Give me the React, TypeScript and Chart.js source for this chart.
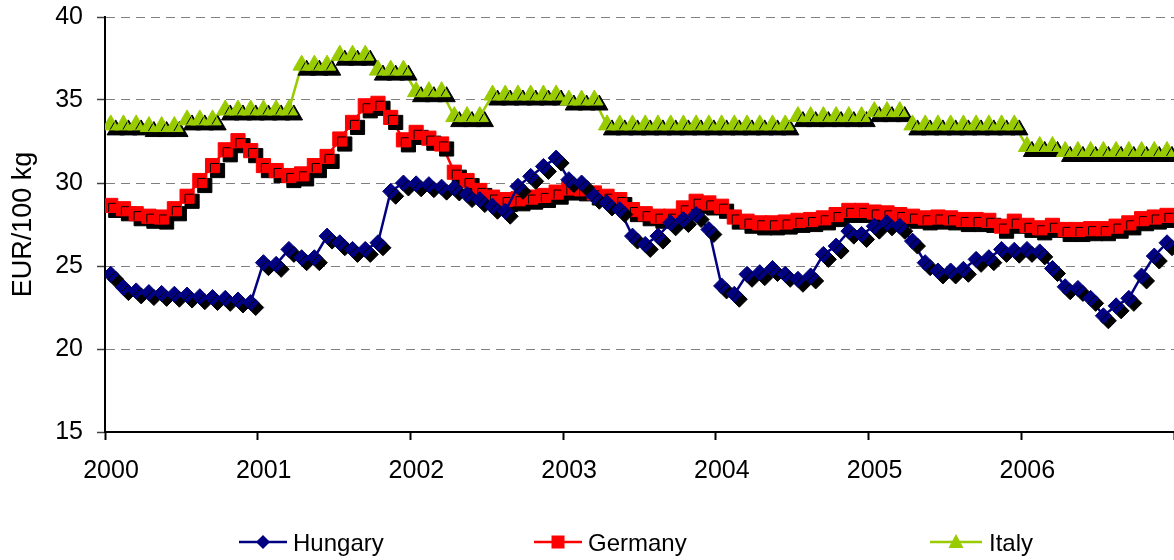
import React, { useEffect, useRef } from 'react';
import { Chart, registerables } from 'chart.js';

Chart.register(...registerables);

// ---------- DATA ----------
const years = [2000, 2001, 2002, 2003, 2004, 2005, 2006];
const months: string[] = years.flatMap((y) =>
  Array.from({ length: 12 }, (_, m) => `${y}-${String(m + 1).padStart(2, '0')}`)
);
const xTickYears = [2000, 2001, 2002, 2003, 2004, 2005, 2006, 2007];
const yTicks = [15, 20, 25, 30, 35, 40];
const seriesNames = ['Hungary', 'Germany', 'Italy'];

const hungary = [
  24.5, 23.7, 23.5, 23.4, 23.35, 23.3, 23.25, 23.15, 23.1, 23.05, 22.95, 22.8,
  25.2, 25.1, 26.0, 25.5, 25.5, 26.8, 26.4, 26.0, 26.0, 26.4, 29.5, 30.0,
  29.95, 29.9, 29.75, 29.7, 29.3, 29.0, 28.6, 28.3, 29.8, 30.4, 31.0, 31.5,
  30.2, 30.0, 29.2, 28.8, 28.4, 26.8, 26.3, 26.8, 27.6, 27.8, 28.1, 27.2,
  23.8, 23.3, 24.5, 24.6, 24.85, 24.5, 24.2, 24.4, 25.7, 26.2, 27.1, 26.9,
  27.4, 27.6, 27.4, 26.5, 25.2, 24.7, 24.7, 24.8, 25.4, 25.5, 26.0, 25.95,
  26.0, 25.85, 24.85, 23.75, 23.65, 23.05, 22.0, 22.6, 23.05, 24.4, 25.6, 26.4,
];

const germany = [
  28.65, 28.45, 28.15, 28.0, 27.95, 28.45, 29.2, 30.15, 31.05, 32.0, 32.55, 31.95,
  31.05, 30.75, 30.45, 30.55, 31.05, 31.6, 32.65, 33.65, 34.65, 34.8, 33.95, 32.6,
  33.05, 32.7, 32.35, 30.65, 30.15, 29.55, 29.15, 29.0, 29.05, 29.15, 29.25, 29.45,
  29.7, 29.65, 29.4, 29.2, 29.0, 28.4, 28.15, 28.0, 28.0, 28.5, 28.9, 28.8,
  28.6, 27.95, 27.7, 27.6, 27.6, 27.65, 27.75, 27.8, 27.9, 28.1, 28.35, 28.35,
  28.25, 28.2, 28.1, 28.0, 27.9, 27.95, 27.9, 27.8, 27.8, 27.75, 27.4, 27.7,
  27.45, 27.3, 27.45, 27.2, 27.2, 27.25, 27.25, 27.4, 27.6, 27.85, 27.95, 28.05,
];

const italy = [
  33.5, 33.5, 33.5, 33.4, 33.4, 33.4, 33.8, 33.8, 33.8, 34.4, 34.4, 34.4,
  34.4, 34.4, 34.4, 37.1, 37.1, 37.1, 37.7, 37.7, 37.7, 36.8, 36.8, 36.8,
  35.5, 35.5, 35.5, 34.0, 34.0, 34.0, 35.3, 35.3, 35.3, 35.3, 35.3, 35.3,
  35.0, 35.0, 35.0, 33.5, 33.5, 33.5, 33.5, 33.5, 33.5, 33.5, 33.5, 33.5,
  33.5, 33.5, 33.5, 33.5, 33.5, 33.5, 34.0, 34.0, 34.0, 34.0, 34.0, 34.0,
  34.3, 34.3, 34.3, 33.5, 33.5, 33.5, 33.5, 33.5, 33.5, 33.5, 33.5, 33.5,
  32.2, 32.2, 32.2, 31.9, 31.9, 31.9, 31.9, 31.9, 31.9, 31.9, 31.9, 31.9,
];

// ---------- STYLE ----------
const FONT = "'Liberation Sans', Arial, sans-serif";
const colors = ['#000080', '#FF0000', '#99CC00'];
const pointStyles = ['rectRot', 'rect', 'triangle'];
const pointRadii = [8, 10, 10];

// month label -> decimal year near the middle of the month
const toYear = (m: string) => {
  const [y, mo] = m.split('-').map(Number);
  return y + (mo - 1 + 0.45) / 12;
};

const seriesValues = [hungary, germany, italy];

const shadowPlugin = {
  id: 'markerShadow',
  beforeDatasetDraw(chart: any, args: any) {
    const ds = chart.data.datasets[args.index];
    if (ds.markerShadow) {
      const ctx = chart.ctx;
      ctx.save();
      ctx.shadowColor = '#000000';
      ctx.shadowOffsetX = 5;
      ctx.shadowOffsetY = 5;
      ctx.shadowBlur = 0;
    }
  },
  afterDatasetDraw(chart: any, args: any) {
    const ds = chart.data.datasets[args.index];
    if (ds.markerShadow) chart.ctx.restore();
  },
};

const legendLayout = [
  { lineStart: 239, lineEnd: 287, marker: 263, text: 293 },
  { lineStart: 534, lineEnd: 582, marker: 558, text: 588 },
  { lineStart: 930, lineEnd: 982, marker: 956, text: 989 },
];

const drawMarker = (ctx: CanvasRenderingContext2D, style: string, x: number, y: number) => {
  ctx.beginPath();
  if (style === 'rectRot') {
    const r = 7;
    ctx.moveTo(x, y - r);
    ctx.lineTo(x + r, y);
    ctx.lineTo(x, y + r);
    ctx.lineTo(x - r, y);
  } else if (style === 'rect') {
    const h = 6.5;
    ctx.rect(x - h, y - h, 2 * h, 2 * h);
  } else {
    ctx.moveTo(x, y - 8);
    ctx.lineTo(x + 7.5, y + 6);
    ctx.lineTo(x - 7.5, y + 6);
  }
  ctx.closePath();
  ctx.fill();
};

const legendPlugin = {
  id: 'customLegend',
  afterDraw(chart: any) {
    const ctx: CanvasRenderingContext2D = chart.ctx;
    const y = 542;
    ctx.save();
    seriesNames.forEach((name, i) => {
      const L = legendLayout[i];
      ctx.strokeStyle = colors[i];
      ctx.fillStyle = colors[i];
      ctx.lineWidth = 2.5;
      ctx.beginPath();
      ctx.moveTo(L.lineStart, y);
      ctx.lineTo(L.lineEnd, y);
      ctx.stroke();
      drawMarker(ctx, pointStyles[i], L.marker, y);
      ctx.fillStyle = '#000';
      ctx.font = `24px ${FONT}`;
      ctx.textBaseline = 'alphabetic';
      ctx.textAlign = 'left';
      ctx.fillText(name, L.text, y + 9);
    });
    ctx.restore();
  },
};

const zeroPadding = (s: any) => {
  s.paddingLeft = 0;
  s.paddingRight = 0;
  s.paddingTop = 0;
  s.paddingBottom = 0;
};

export default function App() {
  const ref = useRef<HTMLCanvasElement | null>(null);

  useEffect(() => {
    if (!ref.current) return;
    const datasets: any[] = [];
    seriesNames.forEach((name, i) => {
      const pts = months.map((m, k) => ({ x: toYear(m), y: seriesValues[i][k] }));
      datasets.push({
        label: name,
        data: pts,
        borderColor: colors[i],
        backgroundColor: colors[i],
        borderWidth: 2.5,
        pointRadius: 0,
        showLine: true,
        tension: 0,
        order: i * 2 + 1,
      });
      datasets.push({
        label: name + ' markers',
        data: pts,
        borderColor: colors[i],
        backgroundColor: colors[i],
        showLine: false,
        pointStyle: pointStyles[i],
        pointRadius: pointRadii[i],
        pointBorderWidth: 1,
        pointBorderColor: colors[i],
        pointBackgroundColor: colors[i],
        markerShadow: true,
        order: i * 2,
      });
    });

    const chart = new Chart(ref.current, {
      type: 'line',
      data: { datasets },
      options: {
        responsive: false,
        animation: false,
        events: [],
        layout: { autoPadding: false, padding: { top: 17, left: 0, right: 0, bottom: 0 } },
        plugins: {
          legend: { display: false },
          tooltip: { enabled: false },
        },
        scales: {
          x: {
            type: 'linear',
            min: xTickYears[0],
            max: xTickYears[xTickYears.length - 1],
            afterFit: (s: any) => {
              s.height = 128;
              zeroPadding(s);
            },
            afterBuildTicks: (s: any) => {
              s.ticks = xTickYears.map((v) => ({ value: v }));
            },
            ticks: {
              autoSkip: false,
              maxRotation: 0,
              color: '#000',
              font: { family: FONT, size: 25 },
              padding: 16,
              labelOffset: 6,
              callback: (v: any) => (v === xTickYears[xTickYears.length - 1] ? '' : String(v)),
            },
            grid: {
              drawOnChartArea: false,
              tickLength: 8,
              tickColor: '#000',
              tickWidth: 2,
            },
            border: { display: true, color: '#000', width: 2 },
          },
          y: {
            min: yTicks[0],
            max: yTicks[yTicks.length - 1],
            afterFit: (s: any) => {
              s.width = 105;
              zeroPadding(s);
            },
            afterBuildTicks: (s: any) => {
              s.ticks = yTicks.map((v) => ({ value: v }));
            },
            ticks: {
              color: '#000',
              font: { family: FONT, size: 25 },
              padding: 14,
            },
            grid: {
              color: '#808080',
              lineWidth: 1,
              tickLength: 8,
              tickColor: '#404040',
              tickWidth: 1.5,
            },
            border: { display: true, color: '#000', width: 2, dash: [9, 6] },
            title: {
              display: true,
              text: 'EUR/100 kg',
              color: '#000',
              font: { family: FONT, size: 27 },
              padding: { top: 7, bottom: 0 },
            },
          },
        },
      },
      plugins: [shadowPlugin, legendPlugin],
    } as any);

    return () => chart.destroy();
  }, []);

  return (
    <div style={{ position: 'fixed', left: 0, top: 0, width: 1174, height: 560, background: '#fff' }}>
      <canvas ref={ref} width={1174} height={560} style={{ display: 'block' }} />
    </div>
  );
}
